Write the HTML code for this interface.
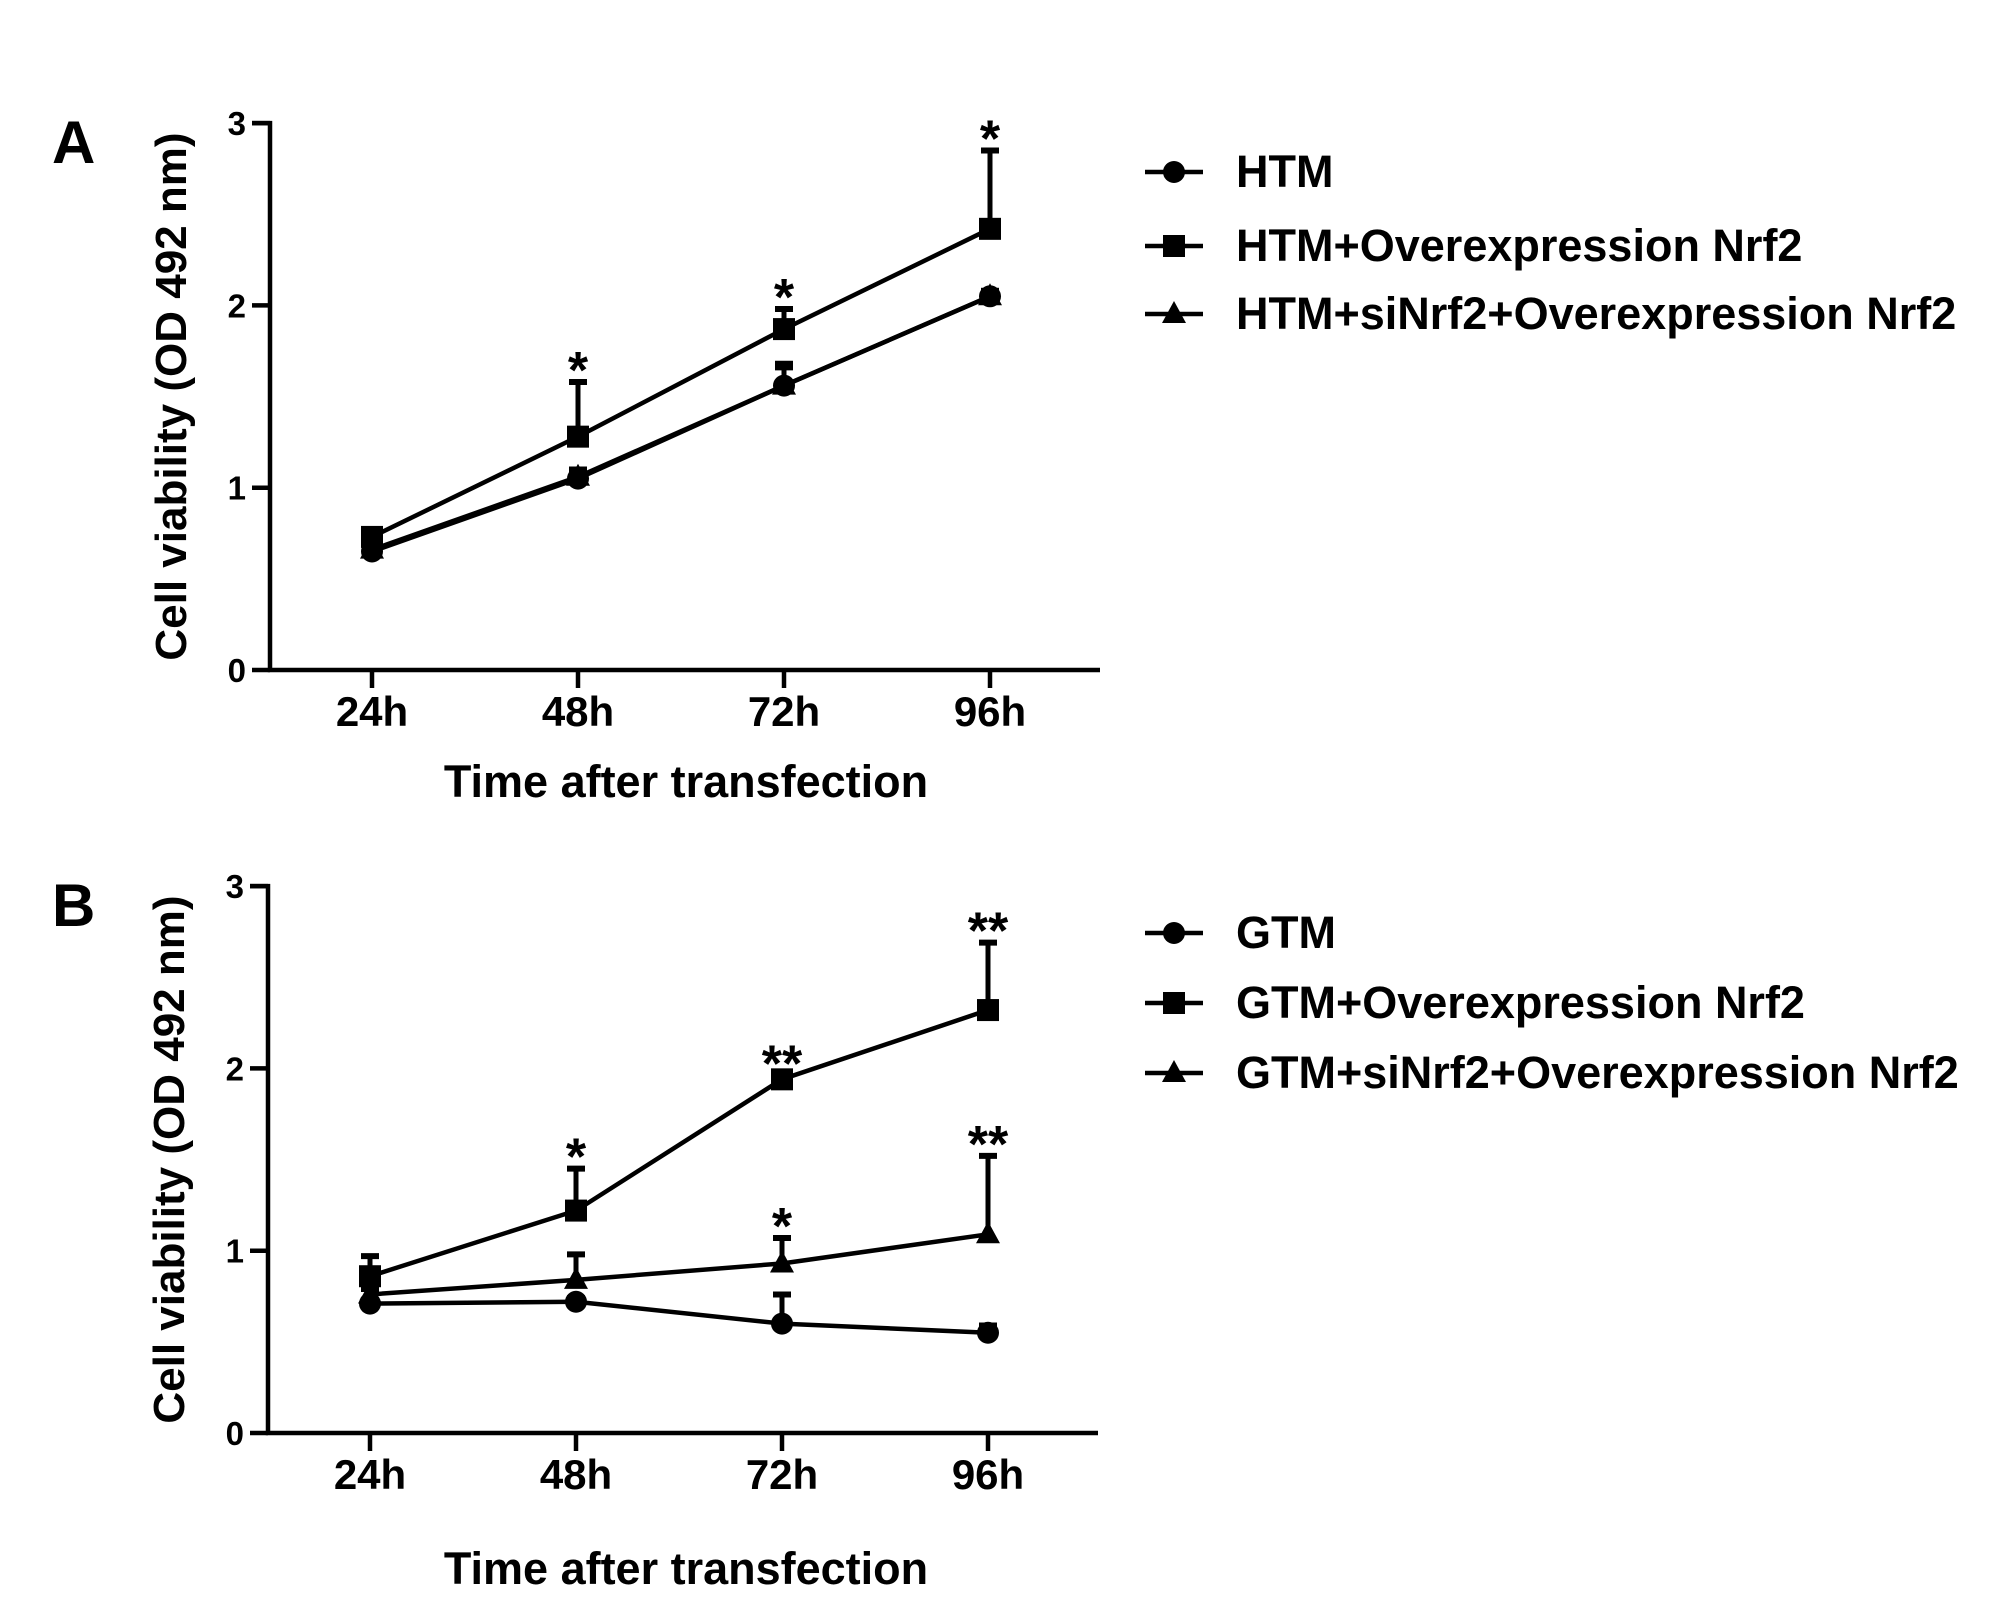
<!DOCTYPE html>
<html><head><meta charset="utf-8"><style>
html,body{margin:0;padding:0;background:#fff}
svg{display:block;font-family:"Liberation Sans",Arial,sans-serif;font-weight:bold}
</style></head><body>
<svg id="fig" width="2008" height="1612" viewBox="0 0 2008 1612" xmlns="http://www.w3.org/2000/svg"></svg>
<script>
const categories = ["24h","48h","72h","96h"];
const yTicks = [0,1,2,3];
const seriesNamesA = ["HTM","HTM+Overexpression Nrf2","HTM+siNrf2+Overexpression Nrf2"];
const seriesNamesB = ["GTM","GTM+Overexpression Nrf2","GTM+siNrf2+Overexpression Nrf2"];
const aCircle = [0.65,1.05,1.56,2.05];
const aCircleErr = [0.03,0.05,0.12,0.03];
const aSquare = [0.73,1.28,1.87,2.42];
const aSquareErr = [0.04,0.30,0.11,0.43];
const aTriangle = [0.66,1.06,1.56,2.05];
const aTriangleErr = [0.03,0.04,0.10,0.03];
const aSquareStars = ["","*","*","*"];
const bCircle = [0.71,0.72,0.60,0.55];
const bCircleErr = [0.02,0.02,0.16,0.04];
const bSquare = [0.86,1.22,1.94,2.32];
const bSquareErr = [0.11,0.23,0.02,0.37];
const bTriangle = [0.76,0.84,0.93,1.09];
const bTriangleErr = [0.03,0.14,0.14,0.43];
const bSquareStars = ["","*","**","**"];
const bTriangleStars = ["","","*","**"];

const svg = document.getElementById('fig');
const NS = "http://www.w3.org/2000/svg";
function el(tag, attrs, parent){
  const e = document.createElementNS(NS, tag);
  for (const k in attrs) e.setAttribute(k, attrs[k]);
  (parent||svg).appendChild(e);
  return e;
}
function txt(s, attrs, parent){ const t = el('text', attrs, parent); t.textContent = s; return t; }
function marker(g, type, x, y){
  let m;
  if (type==='circle') m = el('circle',{cx:x,cy:y,r:11,fill:'#000'},g);
  else if (type==='square') m = el('rect',{x:x-11,y:y-11,width:22,height:22,fill:'#000'},g);
  else m = el('polygon',{points:`${x},${y-13} ${x+12},${y+9} ${x-12},${y+9}`,fill:'#000'},g);
  return m;
}

function panel(cfg){
  const g = el('g',{});
  
  
  const x = i => cfg.x0 + i*cfg.dx;
  const y = v => cfg.y0 - v*cfg.unit;
  const ax = el('path',{d:`M${cfg.ax-18},${y(3)} H${cfg.ax} V${cfg.y0} H${cfg.xEnd}`,stroke:'#000','stroke-width':4.5,fill:'none'},g);
  
  
  yTicks.forEach(t=>{
    el('line',{x1:cfg.ax-18,x2:cfg.ax,y1:y(t),y2:y(t),stroke:'#000','stroke-width':4.5},g);
    const l = txt(String(t),{x:cfg.ax-24,y:y(t)+12,'font-size':33,'text-anchor':'end'},g);
    
    
  });
  categories.forEach((c,i)=>{
    el('line',{x1:x(i),x2:x(i),y1:cfg.y0,y2:cfg.y0+18,stroke:'#000','stroke-width':4.5},g);
    const l = txt(c,{x:x(i),y:cfg.y0+56,'font-size':42,'text-anchor':'middle'},g);
    
    
  });
  const yt = txt('Cell viability (OD 492 nm)',{x:0,y:0,'font-size':44,'text-anchor':'middle',transform:`translate(${cfg.ax-84},${(y(3)+cfg.y0)/2}) rotate(-90)`},g);
  
  
  const xt = txt('Time after transfection',{x:686,y:cfg.xTitleY,'font-size':45,'text-anchor':'middle'},g);
  
  
  const pl = txt(cfg.label,{x:52,y:y(3)+40,'font-size':60},g);
  
  
  cfg.series.forEach(s=>{
    const sg = el('g',{},g);
    
    
    el('polyline',{points:s.vals.map((v,i)=>`${x(i)},${y(v)}`).join(' '),fill:'none',stroke:'#000','stroke-width':4.5},sg);
    s.vals.forEach((v,i)=>{
      const top = y(v+s.err[i]);
      el('line',{x1:x(i),x2:x(i),y1:y(v),y2:top,stroke:'#000','stroke-width':5},sg);
      el('line',{x1:x(i)-9,x2:x(i)+9,y1:top,y2:top,stroke:'#000','stroke-width':6},sg);
      const m = marker(sg,s.type,x(i),y(v));
      
      
      if (s.stars && s.stars[i]){
        const st = txt(s.stars[i],{x:x(i),y:top+6,'font-size':52,'text-anchor':'middle'},sg);
        
        
      }
    });
  });
  const types=['circle','square','triangle'];
  cfg.legend.forEach((n,i)=>{
    const lg = el('g',{},g);
    
    
    const ly = cfg.legY[i];
    el('line',{x1:1145,x2:1203,y1:ly,y2:ly,stroke:'#000','stroke-width':4.5},lg);
    marker(lg,types[i],1174,ly);
    txt(n,{x:1236,y:ly+15,'font-size':45},lg);
  });
}

panel({name:'panel-a',label:'A',ax:270,x0:372,dx:206,y0:670,unit:182.3,xEnd:1100,xTitleY:797,
  legend:seriesNamesA,legY:[172,246,314],
  series:[
    {type:'triangle',vals:aTriangle,err:aTriangleErr},
    {type:'circle',vals:aCircle,err:aCircleErr},
    {type:'square',vals:aSquare,err:aSquareErr,stars:aSquareStars}
  ]});
panel({name:'panel-b',label:'B',ax:268,x0:370,dx:206,y0:1433,unit:182.3,xEnd:1098,xTitleY:1584,
  legend:seriesNamesB,legY:[933,1003,1073],
  series:[
    {type:'circle',vals:bCircle,err:bCircleErr},
    {type:'triangle',vals:bTriangle,err:bTriangleErr,stars:bTriangleStars},
    {type:'square',vals:bSquare,err:bSquareErr,stars:bSquareStars}
  ]});
</script>
</body></html>
